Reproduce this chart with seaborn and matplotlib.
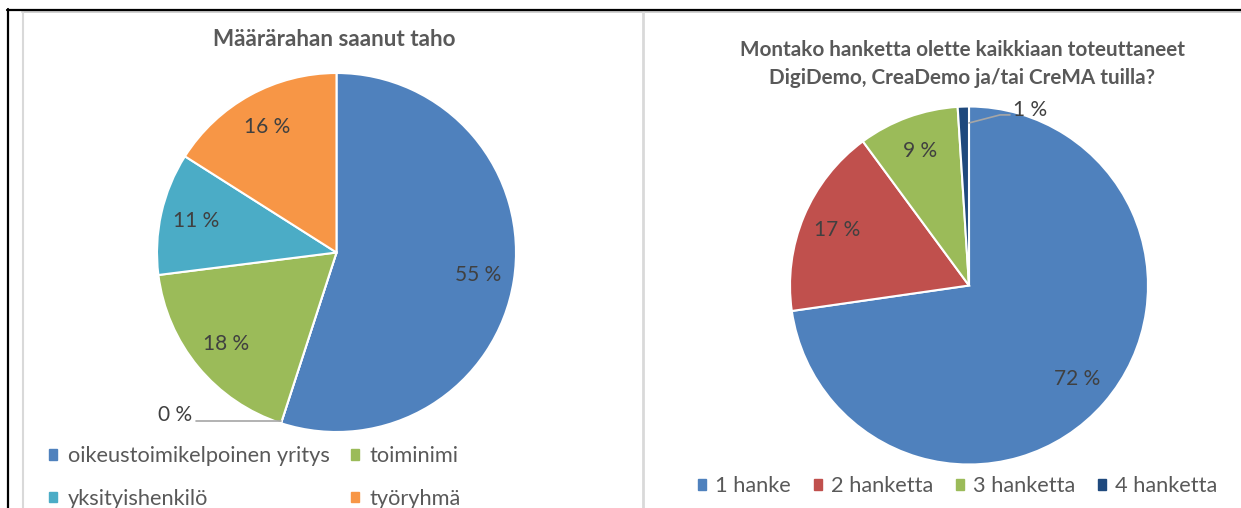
import matplotlib
matplotlib.use("Agg")
import matplotlib.pyplot as plt
import numpy as np
import seaborn as sns
from matplotlib.lines import Line2D
from matplotlib.patches import Patch

sns.set_theme(style="white")
plt.rcParams['font.family'] = ['Lato', 'DejaVu Sans']

# ---- data ---------------------------------------------------------------
left_title = "Määrärahan saanut taho"
left_cats = ["oikeustoimikelpoinen yritys", "muu", "toiminimi", "yksityishenkilö", "työryhmä"]
left_vals = [55, 0, 18, 11, 16]
left_in_legend = [True, False, True, True, True]

right_title = "Montako hanketta olette kaikkiaan toteuttaneet\nDigiDemo, CreaDemo ja/tai CreMA tuilla?"
right_cats = ["1 hanke", "2 hanketta", "3 hanketta", "4 hanketta"]
right_vals = [72, 17, 9, 1]

# excel 2010 palette
left_colors = sns.color_palette(["#4F81BD", "#C0504D", "#9BBB59", "#4BACC6", "#F79646"])
right_colors = sns.color_palette(["#4F81BD", "#C0504D", "#9BBB59", "#1F497D"])

TITLE_C = "#595959"
LABEL_C = "#404040"
FS_LEG = 15.7
FS_LAB = 15

W, H = 1241, 508
fig = plt.figure(figsize=(W / 100, H / 100), dpi=100)


def pie_axes(cx, cy, r):
    ax = fig.add_axes([(cx - r) / W, 1 - (cy + r) / H, 2 * r / W, 2 * r / H])
    ax.set_axis_off()
    return ax


def draw_pie(ax, vals, colors):
    wedges, _ = ax.pie(vals, colors=colors, startangle=90, counterclock=False,
                       wedgeprops=dict(edgecolor="white", linewidth=1.5))
    ax.set_xlim(-1, 1)
    ax.set_ylim(-1, 1)
    return wedges


def inner_labels(ax, wedges, vals, skip, dist=0.8):
    for w, v in zip(wedges, vals):
        if v in skip:
            continue
        a = np.deg2rad((w.theta1 + w.theta2) / 2)
        ax.text(dist * np.cos(a), dist * np.sin(a), f"{v} %", ha="center", va="center",
                fontsize=FS_LAB, color=LABEL_C)


# ---- left pie -------------------------------------------------------------
axl = pie_axes(336.5, 252.5, 179.5)
wl = draw_pie(axl, left_vals, left_colors)
inner_labels(axl, wl, left_vals, skip=[0])
zero = wl[left_vals.index(0)]
a0 = np.deg2rad(zero.theta1)
axl.plot([np.cos(a0), -0.78], [-0.94, -0.94], color="#a6a6a6", lw=1.2, clip_on=False)
axl.text(-0.90, -0.905, "0 %", ha="center", va="center", fontsize=FS_LAB, color=LABEL_C)

fig.text(334 / W, 1 - 40 / H, left_title, ha="center", va="center", fontsize=16.2,
         fontweight="bold", color=TITLE_C)

# legend fills column by column, so reorder to get the row order of the original
h_left = [Patch(color=c) for c, s in zip(left_colors, left_in_legend) if s]
l_left = [n for n, s in zip(left_cats, left_in_legend) if s]
order = [0, 2, 1, 3]
fig.legend([h_left[i] for i in order], [l_left[i] for i in order], loc="upper left",
           bbox_to_anchor=(49 / W, 1 - 446 / H), ncol=2,
           frameon=False, fontsize=FS_LEG, labelcolor=TITLE_C, handlelength=0.38, handleheight=0.38,
           handletextpad=0.5, columnspacing=0.95, labelspacing=1.05, borderpad=0, borderaxespad=0)

# ---- right pie ------------------------------------------------------------
axr = pie_axes(969, 285.5, 179)
wr = draw_pie(axr, right_vals, right_colors)
inner_labels(axr, wr, right_vals, skip=[1])
axr.plot([0.0, 0.173, 0.229], [0.908, 0.953, 0.953], color="#a6a6a6", lw=1.2, clip_on=False)
axr.text(0.34, 0.98, "1 %", ha="center", va="center", fontsize=FS_LAB, color=LABEL_C)

fig.text(962 / W, 1 - 64 / H, right_title, ha="center", va="center", fontsize=14.9,
         fontweight="bold", color=TITLE_C, linespacing=1.45)

h_right = [Patch(color=c) for c in right_colors]
fig.legend(h_right, right_cats, loc="upper left", bbox_to_anchor=(698 / W, 1 - 476 / H), ncol=4,
           frameon=False, fontsize=FS_LEG, labelcolor=TITLE_C, handlelength=0.38, handleheight=0.38,
           handletextpad=0.4, columnspacing=1.05, borderpad=0, borderaxespad=0)

# ---- frame lines ------------------------------------------------------------
def hline(y, x0, x1, c, lw):
    fig.add_artist(Line2D([x0 / W, x1 / W], [1 - y / H, 1 - y / H], color=c, lw=lw))


def vline(x, y0, y1, c, lw):
    fig.add_artist(Line2D([x / W, x / W], [1 - y0 / H, 1 - y1 / H], color=c, lw=lw))


hline(11.5, 22, W, "#c8c8c8", 1.2)
vline(23, 11.5, H, "#d9d9d9", 1.5)
vline(643, 11.5, H, "#d9d9d9", 2)
hline(9.8, 7, W, "black", 1.6)
vline(8, 9, H, "black", 1.6)

fig.savefig("out.png", dpi=100)
